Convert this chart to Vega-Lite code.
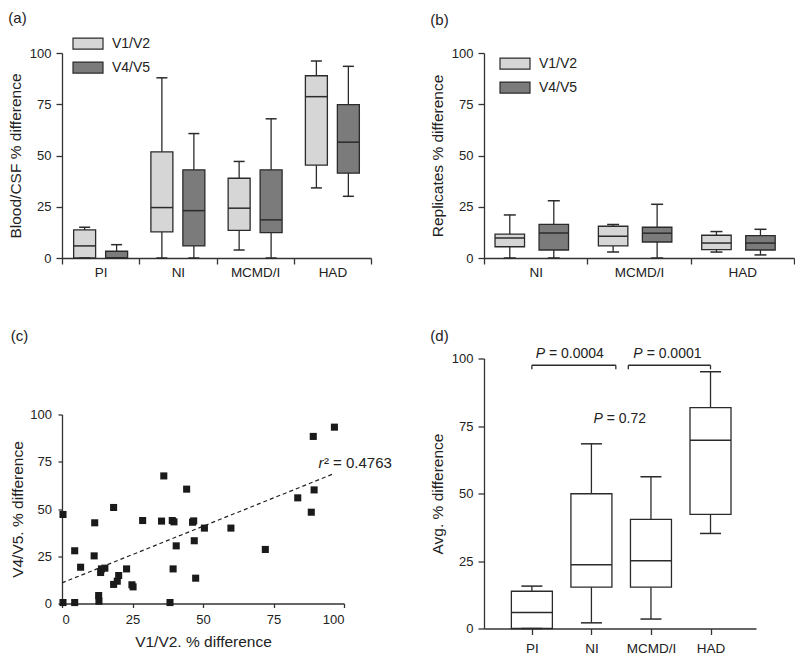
{
  "$schema": "https://vega.github.io/schema/vega-lite/v6.json",
  "padding": {"left": 8, "top": 10, "right": 0, "bottom": 0},
  "background": "white",
  "config": {
    "font": "Liberation Sans",
    "view": {"stroke": null},
    "axis": {"grid": false, "domainColor": "#333", "tickColor": "#333", "domainWidth": 1.3, "tickWidth": 1.3, "labelColor": "#222", "titleColor": "#222", "labelFontSize": 13, "titleFontSize": 15.5, "titleFontWeight": "normal", "tickSize": 6, "labelPadding": 5},
    "title": {"fontSize": 15, "fontWeight": "normal", "color": "#222", "anchor": "start", "frame": "bounds"}
  },
  "datasets": {
    "boxA": [
      {"group": "PI", "series": "V1/V2", "low": 0, "q1": 0, "median": 5.9, "q3": 13.7, "high": 15.0},
      {"group": "PI", "series": "V4/V5", "low": 0, "q1": 0, "median": 0, "q3": 3.3, "high": 6.5},
      {"group": "NI", "series": "V1/V2", "low": 0, "q1": 12.7, "median": 24.6, "q3": 51.8, "high": 87.9},
      {"group": "NI", "series": "V4/V5", "low": 0, "q1": 5.9, "median": 23.1, "q3": 43.0, "high": 60.7},
      {"group": "MCMD/I", "series": "V1/V2", "low": 3.9, "q1": 13.5, "median": 24.3, "q3": 38.9, "high": 47.1},
      {"group": "MCMD/I", "series": "V4/V5", "low": 0, "q1": 12.4, "median": 18.6, "q3": 43.0, "high": 67.9},
      {"group": "HAD", "series": "V1/V2", "low": 34.2, "q1": 45.3, "median": 78.7, "q3": 88.9, "high": 96.1},
      {"group": "HAD", "series": "V4/V5", "low": 30.1, "q1": 41.4, "median": 56.5, "q3": 74.8, "high": 93.5}
    ],
    "boxB": [
      {"group": "NI", "series": "V1/V2", "low": 0, "q1": 5.5, "median": 9.8, "q3": 11.6, "high": 21.0},
      {"group": "NI", "series": "V4/V5", "low": 0, "q1": 3.9, "median": 12.2, "q3": 16.4, "high": 27.9},
      {"group": "MCMD/I", "series": "V1/V2", "low": 2.9, "q1": 5.9, "median": 10.6, "q3": 15.5, "high": 16.4},
      {"group": "MCMD/I", "series": "V4/V5", "low": 0, "q1": 7.8, "median": 12.1, "q3": 15.0, "high": 26.2},
      {"group": "HAD", "series": "V1/V2", "low": 2.9, "q1": 4.1, "median": 7.3, "q3": 11.1, "high": 12.9},
      {"group": "HAD", "series": "V4/V5", "low": 1.5, "q1": 3.9, "median": 7.3, "q3": 10.9, "high": 14.0}
    ],
    "scatter": [
      {"v1v2": 0.35, "v4v5": 47.1}, {"v1v2": 0.35, "v4v5": 0.5}, {"v1v2": 4.5, "v4v5": 27.9}, {"v1v2": 4.5, "v4v5": 0.5},
      {"v1v2": 6.6, "v4v5": 19.2}, {"v1v2": 11.6, "v4v5": 42.7}, {"v1v2": 11.4, "v4v5": 25.2}, {"v1v2": 13.0, "v4v5": 4.2},
      {"v1v2": 13.1, "v4v5": 1.2}, {"v1v2": 13.7, "v4v5": 16.4}, {"v1v2": 14.0, "v4v5": 18.3}, {"v1v2": 15.2, "v4v5": 18.7},
      {"v1v2": 18.3, "v4v5": 50.8}, {"v1v2": 18.3, "v4v5": 10.1}, {"v1v2": 19.6, "v4v5": 11.8}, {"v1v2": 20.1, "v4v5": 14.8},
      {"v1v2": 22.9, "v4v5": 18.3}, {"v1v2": 24.8, "v4v5": 9.9}, {"v1v2": 25.2, "v4v5": 8.8}, {"v1v2": 28.6, "v4v5": 43.9},
      {"v1v2": 35.3, "v4v5": 43.6}, {"v1v2": 36.1, "v4v5": 67.5}, {"v1v2": 38.3, "v4v5": 0.5}, {"v1v2": 39.1, "v4v5": 43.9},
      {"v1v2": 39.7, "v4v5": 43.2}, {"v1v2": 39.4, "v4v5": 18.3}, {"v1v2": 40.5, "v4v5": 30.5}, {"v1v2": 44.2, "v4v5": 60.5},
      {"v1v2": 46.3, "v4v5": 43.0}, {"v1v2": 46.7, "v4v5": 43.7}, {"v1v2": 46.9, "v4v5": 33.2}, {"v1v2": 47.4, "v4v5": 13.4},
      {"v1v2": 50.5, "v4v5": 39.9}, {"v1v2": 59.9, "v4v5": 39.9}, {"v1v2": 72.1, "v4v5": 28.6}, {"v1v2": 83.6, "v4v5": 55.9},
      {"v1v2": 88.4, "v4v5": 48.3}, {"v1v2": 89.1, "v4v5": 88.4}, {"v1v2": 89.4, "v4v5": 60.1}, {"v1v2": 96.6, "v4v5": 93.3}
    ],
    "fit": [{"v1v2": 0, "v4v5": 10.9}, {"v1v2": 96.6, "v4v5": 68.8}],
    "r2": [{"v1v2": 92.7, "v4v5": 74.2, "r": "r", "rest": "² = 0.4763"}],
    "boxD": [
      {"pos": 1, "group": "PI", "low": 0, "q1": 0, "median": 5.9, "q3": 13.8, "high": 15.7},
      {"pos": 2, "group": "NI", "low": 2.1, "q1": 15.3, "median": 23.6, "q3": 49.9, "high": 68.4},
      {"pos": 3, "group": "MCMD/I", "low": 3.5, "q1": 15.3, "median": 25.1, "q3": 40.4, "high": 56.2},
      {"pos": 4, "group": "HAD", "low": 35.2, "q1": 42.3, "median": 69.7, "q3": 81.8, "high": 95.1}
    ],
    "bracketH": [{"x1": 1, "x2": 2.41, "y": 97.5}, {"x1": 2.62, "x2": 4, "y": 97.5}],
    "bracketV": [{"x": 1, "y1": 97.5, "y2": 96}, {"x": 2.41, "y1": 97.5, "y2": 96}, {"x": 2.62, "y1": 97.5, "y2": 96}, {"x": 4, "y1": 97.5, "y2": 96}],
    "pvals": [
      {"x": 1.22, "y": 101.6, "p": "P", "rest": "= 0.0004"},
      {"x": 2.86, "y": 101.6, "p": "P", "rest": "= 0.0001"},
      {"x": 2.19, "y": 77.5, "p": "P", "rest": "= 0.72"}
    ]
  },
  "columns": 2,
  "align": {"row": "none", "column": "each"},
  "spacing": {"row": 49.5, "column": 38},
  "resolve": {"scale": {"x": "independent", "y": "independent", "color": "independent", "xOffset": "independent"}},
  "concat": [
    {
      "width": 309, "height": 205,
      "title": {"text": "(a)", "offset": 2},
      "data": {"name": "boxA"},
      "encoding": {
        "x": {"field": "group", "type": "nominal", "sort": ["PI", "NI", "MCMD/I", "HAD"], "scale": {"paddingInner": 0, "paddingOuter": 0}, "axis": {"title": null, "labelAngle": 0, "tickBand": "extent", "labelPadding": 1.5, "labelFontSize": 13.5}},
        "xOffset": {"field": "series", "type": "nominal", "scale": {"paddingInner": 0.3125, "paddingOuter": 0.364}}
      },
      "layer": [
        {"mark": {"type": "rule", "color": "#2b2b2b", "strokeWidth": 1.3}, "encoding": {"y": {"field": "low", "type": "quantitative", "scale": {"domain": [0, 100], "nice": false}, "axis": {"title": "Blood/CSF % difference", "values": [0, 25, 50, 75, 100], "titlePadding": 6}}, "y2": {"field": "high"}}},
        {"mark": {"type": "bar", "stroke": "#2b2b2b", "strokeWidth": 1.3, "opacity": 1}, "encoding": {"y": {"field": "q1", "type": "quantitative"}, "y2": {"field": "q3"},
          "color": {"field": "series", "type": "nominal", "scale": {"domain": ["V1/V2", "V4/V5"], "range": ["#d6d6d6", "#7b7b7b"]},
            "legend": {"title": null, "orient": "none", "legendX": 10, "legendY": -25.4, "symbolType": "M-1,-0.367H1V0.367H-1Z", "symbolSize": 900, "symbolStrokeColor": "#2b2b2b", "symbolStrokeWidth": 1.2, "symbolOpacity": 1, "labelFontSize": 14, "labelColor": "#222", "labelOffset": 8, "rowPadding": -7.6, "padding": 0}}}},
        {"mark": {"type": "tick", "orient": "horizontal", "size": 22, "thickness": 1.5, "color": "#2b2b2b", "opacity": 1}, "encoding": {"y": {"field": "median", "type": "quantitative"}}},
        {"mark": {"type": "tick", "orient": "horizontal", "size": 11, "thickness": 1.5, "color": "#2b2b2b", "opacity": 1}, "encoding": {"y": {"field": "high", "type": "quantitative"}}},
        {"mark": {"type": "tick", "orient": "horizontal", "size": 11, "thickness": 1.5, "color": "#2b2b2b", "opacity": 1}, "encoding": {"y": {"field": "low", "type": "quantitative"}}}
      ]
    },
    {
      "width": 310, "height": 205,
      "title": {"text": "(b)", "offset": 19},
      "data": {"name": "boxB"},
      "encoding": {
        "x": {"field": "group", "type": "nominal", "sort": ["NI", "MCMD/I", "HAD"], "scale": {"paddingInner": 0, "paddingOuter": 0}, "axis": {"title": null, "labelAngle": 0, "tickBand": "extent", "labelPadding": 1.5, "labelFontSize": 13.5}},
        "xOffset": {"field": "series", "type": "nominal", "scale": {"paddingInner": 0.33, "paddingOuter": 0.339, "align": 0.37}}
      },
      "layer": [
        {"mark": {"type": "rule", "color": "#2b2b2b", "strokeWidth": 1.3}, "encoding": {"y": {"field": "low", "type": "quantitative", "scale": {"domain": [0, 100], "nice": false}, "axis": {"title": "Replicates % difference", "values": [0, 25, 50, 75, 100], "titlePadding": 6}}, "y2": {"field": "high"}}},
        {"mark": {"type": "bar", "stroke": "#2b2b2b", "strokeWidth": 1.3, "opacity": 1}, "encoding": {"y": {"field": "q1", "type": "quantitative"}, "y2": {"field": "q3"},
          "color": {"field": "series", "type": "nominal", "scale": {"domain": ["V1/V2", "V4/V5"], "range": ["#d6d6d6", "#7b7b7b"]},
            "legend": {"title": null, "orient": "none", "legendX": 15, "legendY": -5.4, "symbolType": "M-1,-0.367H1V0.367H-1Z", "symbolSize": 900, "symbolStrokeColor": "#2b2b2b", "symbolStrokeWidth": 1.2, "symbolOpacity": 1, "labelFontSize": 14, "labelColor": "#222", "labelOffset": 8, "rowPadding": -7.6, "padding": 0}}}},
        {"mark": {"type": "tick", "orient": "horizontal", "size": 29.5, "thickness": 1.5, "color": "#2b2b2b", "opacity": 1}, "encoding": {"y": {"field": "median", "type": "quantitative"}}},
        {"mark": {"type": "tick", "orient": "horizontal", "size": 12, "thickness": 1.5, "color": "#2b2b2b", "opacity": 1}, "encoding": {"y": {"field": "high", "type": "quantitative"}}},
        {"mark": {"type": "tick", "orient": "horizontal", "size": 12, "thickness": 1.5, "color": "#2b2b2b", "opacity": 1}, "encoding": {"y": {"field": "low", "type": "quantitative"}}}
      ]
    },
    {
      "width": 282, "height": 189,
      "title": {"text": "(c)", "offset": 65},
      "layer": [
        {"data": {"name": "scatter"}, "mark": {"type": "point", "shape": "square", "filled": true, "size": 50, "color": "#1a1a1a", "opacity": 1},
          "encoding": {
            "x": {"field": "v1v2", "type": "quantitative", "scale": {"domain": [0, 100], "nice": false}, "axis": {"title": "V1/V2. % difference", "values": [0, 25, 50, 75, 100], "tickSize": 4, "labelPadding": 6, "titlePadding": 8}},
            "y": {"field": "v4v5", "type": "quantitative", "scale": {"domain": [0, 100], "nice": false}, "axis": {"title": "V4/V5. % difference", "values": [0, 25, 50, 75, 100], "tickSize": 4, "labelPadding": 6.5, "titlePadding": 4}}
          }},
        {"data": {"name": "fit"}, "mark": {"type": "line", "strokeDash": [4, 3], "color": "#222", "strokeWidth": 1.2},
          "encoding": {"x": {"field": "v1v2", "type": "quantitative"}, "y": {"field": "v4v5", "type": "quantitative"}}},
        {"data": {"name": "r2"}, "mark": {"type": "text", "align": "right", "baseline": "middle", "fontStyle": "italic", "fontSize": 15, "color": "#222"},
          "encoding": {"x": {"field": "v1v2", "type": "quantitative"}, "y": {"field": "v4v5", "type": "quantitative"}, "text": {"field": "r"}}},
        {"data": {"name": "r2"}, "mark": {"type": "text", "align": "left", "baseline": "middle", "fontSize": 15, "color": "#222", "dx": 0.5},
          "encoding": {"x": {"field": "v1v2", "type": "quantitative"}, "y": {"field": "v4v5", "type": "quantitative"}, "text": {"field": "rest"}}}
      ]
    },
    {
      "width": 272, "height": 270,
      "title": {"text": "(d)", "offset": 3},
      "layer": [
        {"data": {"name": "boxD"}, "mark": {"type": "rule", "color": "#2b2b2b", "strokeWidth": 1.3},
          "encoding": {
            "x": {"field": "pos", "type": "quantitative", "scale": {"domain": [0.28, 4.68], "nice": false, "zero": false}, "axis": {"title": null, "values": [1, 2, 3, 4], "labelExpr": "['', 'PI', 'NI', 'MCMD/I', 'HAD'][datum.value]", "labelPadding": 6.5, "labelFontSize": 13.5}},
            "y": {"field": "low", "type": "quantitative", "scale": {"domain": [0, 100], "nice": false}, "axis": {"title": "Avg. % difference", "values": [0, 25, 50, 75, 100], "titlePadding": 6}},
            "y2": {"field": "high"}
          }},
        {"data": {"name": "boxD"}, "mark": {"type": "bar", "width": 41, "fill": "white", "stroke": "#2b2b2b", "strokeWidth": 1.3, "opacity": 1},
          "encoding": {"x": {"field": "pos", "type": "quantitative"}, "y": {"field": "q1", "type": "quantitative"}, "y2": {"field": "q3"}}},
        {"data": {"name": "boxD"}, "mark": {"type": "tick", "orient": "horizontal", "size": 41, "thickness": 1.5, "color": "#2b2b2b", "opacity": 1},
          "encoding": {"x": {"field": "pos", "type": "quantitative"}, "y": {"field": "median", "type": "quantitative"}}},
        {"data": {"name": "boxD"}, "mark": {"type": "tick", "orient": "horizontal", "size": 21, "thickness": 1.5, "color": "#2b2b2b", "opacity": 1},
          "encoding": {"x": {"field": "pos", "type": "quantitative"}, "y": {"field": "high", "type": "quantitative"}}},
        {"data": {"name": "boxD"}, "mark": {"type": "tick", "orient": "horizontal", "size": 21, "thickness": 1.5, "color": "#2b2b2b", "opacity": 1},
          "encoding": {"x": {"field": "pos", "type": "quantitative"}, "y": {"field": "low", "type": "quantitative"}}},
        {"data": {"name": "bracketH"}, "mark": {"type": "rule", "color": "#2b2b2b", "strokeWidth": 1.3},
          "encoding": {"x": {"field": "x1", "type": "quantitative"}, "x2": {"field": "x2"}, "y": {"field": "y", "type": "quantitative"}}},
        {"data": {"name": "bracketV"}, "mark": {"type": "rule", "color": "#2b2b2b", "strokeWidth": 1.3},
          "encoding": {"x": {"field": "x", "type": "quantitative"}, "y": {"field": "y1", "type": "quantitative"}, "y2": {"field": "y2"}}},
        {"data": {"name": "pvals"}, "mark": {"type": "text", "align": "right", "baseline": "middle", "fontStyle": "italic", "fontSize": 14, "color": "#222"},
          "encoding": {"x": {"field": "x", "type": "quantitative"}, "y": {"field": "y", "type": "quantitative"}, "text": {"field": "p"}}},
        {"data": {"name": "pvals"}, "mark": {"type": "text", "align": "left", "baseline": "middle", "fontSize": 14, "color": "#222", "dx": 4},
          "encoding": {"x": {"field": "x", "type": "quantitative"}, "y": {"field": "y", "type": "quantitative"}, "text": {"field": "rest"}}}
      ]
    }
  ]
}
